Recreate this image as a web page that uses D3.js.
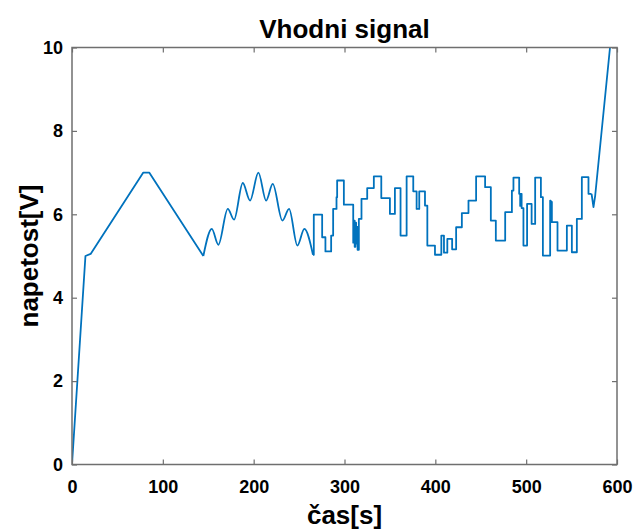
<!DOCTYPE html>
<html><head><meta charset="utf-8">
<script src="https://cdn.jsdelivr.net/npm/d3@7"></script>
<style>body{margin:0;background:#fff}svg{display:block}text{font-family:"Liberation Sans",Arial,Helvetica,sans-serif}</style>
</head><body><svg id="c" width="638" height="530"></svg>
<script>
const title = "Vhodni signal";
const xLabel = "čas[s]";
const yLabel = "napetost[V]";
const xTicks = [0,100,200,300,400,500,600];
const yTicks = [0,2,4,6,8,10];

// linear ramps at start
const rampT = [0, 14.8, 20.5, 78.5, 85, 144.6];
const rampV = [0, 5.0, 5.05, 7.0, 7.0, 5.0];
// smooth oscillation (peaks/troughs)
const waveT = [144.6, 153.9, 161.1, 171.5, 178.4, 188.0, 196.0, 205.2, 213.7, 221.0, 231.6, 239.0, 248.1, 255.8, 265.3];
const waveV = [5.0, 5.65, 5.27, 6.13, 5.87, 6.75, 6.33, 7.0, 6.33, 6.73, 5.85, 6.13, 5.25, 5.65, 5.03];
// piecewise-constant section (value holds from each time until the next)
const stepT = [265.3, 266.2, 275.4, 279.0, 285.3, 287.5, 291.2, 291.9, 299.3, 309.6, 310.4, 311.2, 312.0, 312.8, 313.6, 314.4, 315.8,
  318.7, 325.0, 332.3, 340.5, 350.0, 355.5, 361.7, 368.4, 375.7, 379.4, 382.3, 388.6, 391.2, 399.6, 406.6, 409.5, 413.2, 418.5,
  422.9, 429.2, 436.5, 444.9, 454.8, 461.1, 466.6, 476.9, 484.3, 486.0, 492.3, 493.4, 494.2, 495.0, 497.0, 501.0, 506.0, 509.9,
  516.2, 518.4, 526.4, 527.0, 527.6, 528.3, 534.5, 544.8, 550.3, 555.8, 561.3, 568.6, 572.0];
const stepV = [5.03, 5.99, 5.45, 5.11, 5.49, 6.13, 6.41, 6.81, 6.23, 5.32, 5.85, 5.22, 5.8, 5.3, 5.7, 5.15, 5.89,
  6.37, 6.63, 6.91, 6.39, 6.01, 6.63, 5.49, 6.91, 6.55, 6.13, 6.55, 6.21, 5.25, 5.03, 5.49, 5.08, 5.41, 5.16,
  5.69, 6.03, 6.33, 6.91, 6.65, 5.85, 5.37, 6.05, 6.57, 6.88, 6.49, 6.2, 6.49, 6.15, 5.25, 6.25, 5.77, 6.88,
  6.41, 5.01, 6.33, 5.9, 6.3, 5.81, 5.13, 5.73, 5.09, 5.89, 6.89, 6.49, 6.49];
// final ramp
const tailT = [572.0, 574.1, 576.0, 592.3];
const tailV = [6.49, 6.17, 6.45, 10.0];

const svg = d3.select("#c");
const L = 72, R = 617, T = 47.5, B = 464.5;
const x = d3.scaleLinear().domain([0,600]).range([L,R]);
const y = d3.scaleLinear().domain([0,10]).range([B,T]);
const axisCol = "#6f6f6f";
const lineCol = "#0072BD";

function zip(a,b){return a.map((t,i)=>[t,b[i]]);}
const g = svg.append("g");
svg.append("clipPath").attr("id","pc").append("rect").attr("x",L).attr("y",T-1).attr("width",R-L).attr("height",B-T+1);
const lines = g.append("g").attr("clip-path","url(#pc)");
const mk = c => d3.line().x(d=>x(d[0])).y(d=>y(d[1])).curve(c);
[[zip(rampT,rampV), d3.curveLinear],[zip(waveT,waveV), d3.curveMonotoneX],[zip(stepT,stepV), d3.curveStepAfter],[zip(tailT,tailV), d3.curveLinear]]
 .forEach(([d,c])=>{
  lines.append("path").attr("d", mk(c)(d)).attr("fill","none").attr("stroke",lineCol).attr("stroke-width",1.8).attr("stroke-linejoin","round");
 });

// axes
function styleAxis(sel){
  sel.select(".domain").remove();
  sel.selectAll(".tick line").attr("stroke",axisCol).attr("stroke-width",1.2);
  sel.selectAll(".tick text").attr("fill","#000").attr("font-size",18).attr("font-weight","bold").attr("font-family","'Liberation Sans',Arial,sans-serif");
}
const xa = g.append("g").attr("transform",`translate(0,${B})`).call(d3.axisBottom(x).tickValues(xTicks).tickSizeInner(-5).tickSizeOuter(0).tickPadding(16).tickFormat(d3.format("d")));
styleAxis(xa);
const xt = g.append("g").attr("transform",`translate(0,${T})`).call(d3.axisTop(x).tickValues(xTicks).tickSizeInner(-5).tickSizeOuter(0).tickFormat(""));
styleAxis(xt);
const ya = g.append("g").attr("transform",`translate(${L},0)`).call(d3.axisLeft(y).tickValues(yTicks).tickSizeInner(-5).tickSizeOuter(0).tickPadding(9).tickFormat(d3.format("d")));
styleAxis(ya);
const yr = g.append("g").attr("transform",`translate(${R},0)`).call(d3.axisRight(y).tickValues(yTicks).tickSizeInner(-5).tickSizeOuter(0).tickFormat(""));
styleAxis(yr);
g.append("rect").attr("x",L).attr("y",T).attr("width",R-L).attr("height",B-T).attr("fill","none").attr("stroke",axisCol).attr("stroke-width",1.5);

svg.append("text").attr("x",(L+R)/2).attr("y",38).attr("text-anchor","middle").attr("font-size",26).attr("font-weight","bold").attr("fill","#000").text(title);
svg.append("text").attr("x",(L+R)/2).attr("y",524).attr("text-anchor","middle").attr("font-size",26).attr("font-weight","bold").attr("fill","#000").text(xLabel);
svg.append("text").attr("transform",`translate(38,${(T+B)/2}) rotate(-90)`).attr("text-anchor","middle").attr("font-size",26).attr("font-weight","bold").attr("fill","#000").text(yLabel);
</script></body></html>
